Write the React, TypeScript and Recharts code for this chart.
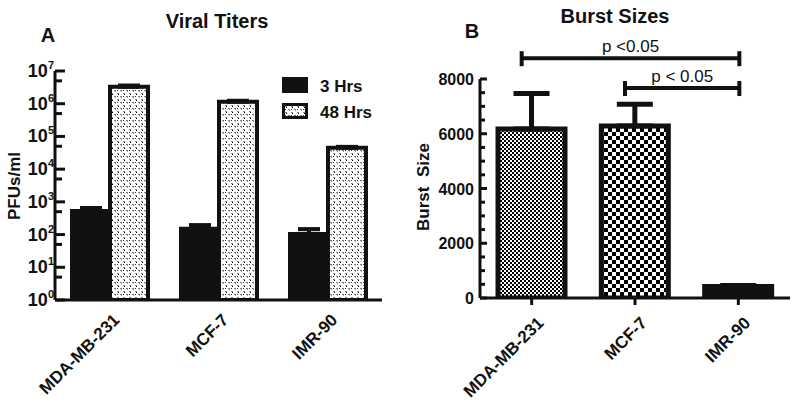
import { Bar, BarChart, Cell, ErrorBar, Legend, ReferenceLine, XAxis, YAxis } from "recharts";

const cellLines = ["MDA-MB-231", "MCF-7", "IMR-90"];

// panel A: viral titers, PFUs/ml (log axis)
const titer3h = [530, 150, 105];
const titer3hErr = [120, 45, 42];
const titer48h = [3300000, 1150000, 45000];
const titer48hErr = [300000, 80000, 3000];
const titerTicks = [1, 5, 10, 50, 100, 500, 1000, 5000, 10000, 50000, 100000, 500000, 1000000, 5000000, 10000000];

// panel B: burst sizes
const burst = [6170, 6280, 420];
const burstErr = [1300, 800, 40];
const burstTicks = [0, 500, 1000, 1500, 2000, 2500, 3000, 3500, 4000, 4500, 5000, 5500, 6000, 6500, 7000, 7500, 8000];
const sigLabels = ["p <0.05", "p < 0.05"];
const sigLevels = [8760, 7670];

const titerRows = cellLines.map((name, i) => ({
  name,
  h3: titer3h[i],
  h3Err: [0, titer3hErr[i]],
  h48: titer48h[i],
  h48Err: [0, titer48hErr[i]],
}));
const burstRows = cellLines.map((name, i) => ({ name, burst: burst[i], err: [0, burstErr[i]] }));
const burstFills = ["url(#checkFine)", "url(#checkCoarse)", "#111"];

const FONT = '"Liberation Sans", Arial, Helvetica, sans-serif';
const INK = "#111";

function LogTick({ x, y, payload }: any) {
  const exp = Math.log10(payload.value);
  const major = Math.abs(exp - Math.round(exp)) < 1e-9;
  return (
    <g>
      <line x1={x} x2={x + (major ? 10 : 7)} y1={y} y2={y} stroke={INK} strokeWidth={3} />
      {major && (
        <text x={x - 1} y={y + 6} textAnchor="end" fontFamily={FONT} fontWeight="bold" fontSize={18} fill={INK}>
          10
          <tspan fontSize={11} dy={-8}>
            {Math.round(exp)}
          </tspan>
        </text>
      )}
    </g>
  );
}

function LinTick({ x, y, payload }: any) {
  const major = payload.value % 2000 === 0;
  return (
    <g>
      <line x1={x} x2={x + (major ? 7 : 5)} y1={y} y2={y} stroke={INK} strokeWidth={3} />
      {major && (
        <text x={x - 6} y={y + 6} textAnchor="end" fontFamily={FONT} fontWeight="bold" fontSize={16} fill={INK}>
          {payload.value}
        </text>
      )}
    </g>
  );
}

// slanted category label; the translate point is the end of the baseline
function makeSlantTick(offX: number, offY: number) {
  return function SlantTick(p: any) {
    const tx = Number(p.x) + offX;
    const ty = Number(p.y) + offY;
    return (
      <text
        transform={`translate(${tx},${ty}) rotate(-45)`}
        textAnchor="end"
        fontFamily={FONT}
        fontWeight="bold"
        fontSize={17}
        fill={INK}
      >
        {p.payload.value}
      </text>
    );
  };
}

function TiterLegend({ payload }: any) {
  return (
    <svg width={110} height={48}>
      {(payload || []).map((entry: any, i: number) => (
        <g key={entry.value} transform={`translate(0,${i * 26})`}>
          <rect x={1.5} y={1.5} width={23} height={13} fill={entry.color} stroke={INK} strokeWidth={3} />
          <text x={38} y={15} fontFamily={FONT} fontWeight="bold" fontSize={17} fill={INK}>
            {entry.value}
          </text>
        </g>
      ))}
    </svg>
  );
}

function Bracket({ x1, y1, x2, label }: any) {
  const left = x1 - 10;
  const right = x2 + 1;
  return (
    <g>
      <line x1={left} x2={right} y1={y1} y2={y1} stroke={INK} strokeWidth={4} />
      <line x1={left} x2={left} y1={y1 - 7} y2={y1 + 8} stroke={INK} strokeWidth={4} />
      <line x1={right} x2={right} y1={y1 - 7} y2={y1 + 8} stroke={INK} strokeWidth={4} />
      <text x={(left + right) / 2} y={y1 - 6} textAnchor="middle" fontFamily={FONT} fontSize={17} fill={INK} style={{ whiteSpace: "pre" }}>
        {label}
      </text>
    </g>
  );
}

function ViralTiters() {
  return (
    <BarChart width={400} height={408} data={titerRows} margin={{ top: 71, right: 18, bottom: 8, left: 10 }} barSize={38} barGap={0}>
      <defs>
        <pattern id="dots48" width={6} height={6} patternUnits="userSpaceOnUse">
          <rect width={6} height={6} fill="#fff" />
          <rect x={0} y={0} width={2} height={1} fill="#7a7a7a" />
          <rect x={1} y={1} width={1} height={1} fill="#999" />
          <rect x={3} y={3} width={2} height={1} fill="#8a8a8a" />
          <rect x={4} y={4} width={1} height={1} fill="#000" />
          <rect x={3} y={0} width={1} height={1} fill="#333" />
        </pattern>
      </defs>
      <XAxis
        dataKey="name"
        axisLine={{ stroke: INK, strokeWidth: 3 }}
        tickLine={false}
        tickSize={0}
        tickMargin={0}
        height={100}
        interval={0}
        tick={makeSlantTick(11, 21)}
      />
      <YAxis
        type="number"
        scale="log"
        domain={[1, 10000000]}
        allowDataOverflow
        ticks={titerTicks}
        interval={0}
        width={45}
        axisLine={{ stroke: INK, strokeWidth: 3 }}
        tickLine={false}
        tickSize={0}
        tickMargin={0}
        tick={<LogTick />}
      />
      <Legend
        layout="vertical"
        align="center"
        verticalAlign="middle"
        wrapperStyle={{ left: 282, top: 77, width: 110, height: 48 }}
        content={<TiterLegend />}
      />
      <Bar dataKey="h3" name="3 Hrs" fill={INK} stroke={INK} strokeWidth={4} isAnimationActive={false}>
        <ErrorBar dataKey="h3Err" width={11} stroke={INK} strokeWidth={4} direction="y" />
      </Bar>
      <Bar dataKey="h48" name="48 Hrs" fill="url(#dots48)" stroke={INK} strokeWidth={4} isAnimationActive={false}>
        <ErrorBar dataKey="h48Err" width={11} stroke={INK} strokeWidth={4} direction="y" />
      </Bar>
    </BarChart>
  );
}

function BurstSizes() {
  return (
    <BarChart width={400} height={408} data={burstRows} margin={{ top: 79, right: 10, bottom: 10, left: 20 }} barSize={67}>
      <defs>
        <pattern id="checkFine" width={4} height={4} patternUnits="userSpaceOnUse">
          <rect width={4} height={4} fill="#fff" />
          <rect x={0} y={0} width={2} height={2} fill="#000" />
          <rect x={2} y={2} width={2} height={2} fill="#000" />
        </pattern>
        <pattern id="checkCoarse" width={8} height={8} patternUnits="userSpaceOnUse">
          <rect width={8} height={8} fill="#fff" />
          <rect x={0} y={0} width={4} height={4} fill="#000" />
          <rect x={4} y={4} width={4} height={4} fill="#000" />
        </pattern>
      </defs>
      <XAxis
        dataKey="name"
        axisLine={{ stroke: INK, strokeWidth: 3 }}
        tickLine={{ stroke: INK, strokeWidth: 3 }}
        tickSize={7}
        tickMargin={0}
        height={100}
        interval={0}
        tick={makeSlantTick(13, 19)}
      />
      <YAxis
        type="number"
        domain={[0, 8000]}
        allowDataOverflow
        ticks={burstTicks}
        interval={0}
        width={60}
        axisLine={{ stroke: INK, strokeWidth: 3 }}
        tickLine={false}
        tickSize={0}
        tickMargin={0}
        tick={<LinTick />}
      />
      <Bar dataKey="burst" stroke={INK} strokeWidth={5} isAnimationActive={false}>
        {burstRows.map((row, i) => (
          <Cell key={row.name} fill={burstFills[i]} />
        ))}
        <ErrorBar dataKey="err" width={18} stroke={INK} strokeWidth={5} direction="y" />
      </Bar>
      <ReferenceLine
        ifOverflow="visible"
        segment={[
          { x: cellLines[0], y: sigLevels[0] },
          { x: cellLines[2], y: sigLevels[0] },
        ]}
        shape={(p: any) => <Bracket {...p} label={sigLabels[0]} />}
      />
      <ReferenceLine
        ifOverflow="visible"
        segment={[
          { x: cellLines[1], y: sigLevels[1] },
          { x: cellLines[2], y: sigLevels[1] },
        ]}
        shape={(p: any) => <Bracket {...p} label={sigLabels[1]} />}
      />
    </BarChart>
  );
}

export default function App() {
  const boldText = { fontFamily: FONT, fontWeight: "bold" as const, fill: INK };
  return (
    <div style={{ position: "absolute", left: 0, top: 0, width: 800, height: 408, background: "#fff", overflow: "hidden" }}>
      <div style={{ position: "absolute", left: 0, top: 0 }}>
        <ViralTiters />
      </div>
      <div style={{ position: "absolute", left: 400, top: 0 }}>
        <BurstSizes />
      </div>
      <svg width={800} height={408} style={{ position: "absolute", left: 0, top: 0, pointerEvents: "none" }}>
        <text x={217} y={28} textAnchor="middle" fontSize={20} {...boldText}>
          Viral Titers
        </text>
        <text x={48} y={42} textAnchor="middle" fontSize={20} {...boldText}>
          A
        </text>
        <text x={615} y={23} textAnchor="middle" fontSize={20} {...boldText}>
          Burst Sizes
        </text>
        <text x={472} y={38} textAnchor="middle" fontSize={20} {...boldText}>
          B
        </text>
        <text transform="translate(14,186) rotate(-90)" textAnchor="middle" dy="0.36em" fontSize={17} {...boldText}>
          PFUs/ml
        </text>
        <text transform="translate(423,187) rotate(-90)" textAnchor="middle" dy="0.36em" fontSize={17} style={{ whiteSpace: "pre" }} {...boldText}>
          {"Burst  Size"}
        </text>
      </svg>
    </div>
  );
}
